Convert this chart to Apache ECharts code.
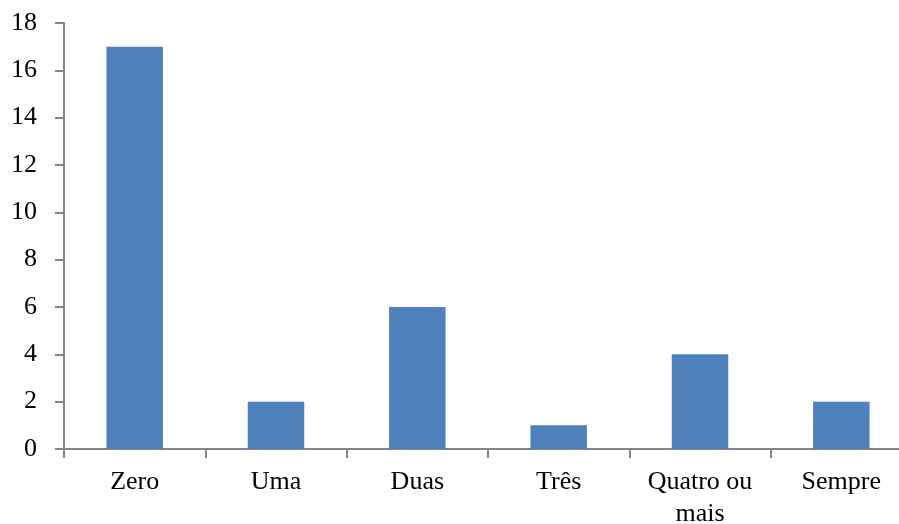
<!DOCTYPE html>
<html><head><meta charset="utf-8">
<script src="https://cdn.jsdelivr.net/npm/echarts@6/dist/echarts.min.js"></script>
<style>html,body{margin:0;padding:0;background:#fff;overflow:hidden}#c{width:899px;height:524px}</style>
</head><body><div id="c"></div>
<script>
const categories = ["Zero", "Uma", "Duas", "Três", "Quatro ou\nmais", "Sempre"];
const values = [17, 2, 6, 1, 4, 2];
const yTicks = [0, 2, 4, 6, 8, 10, 12, 14, 16, 18];

const chart = echarts.init(document.getElementById('c'));
const font = '"Liberation Serif", "Times New Roman", serif';
chart.setOption({
  animation: false,
  grid: { left: 64, right: -13, top: 23, bottom: 75, containLabel: false, outerBoundsMode: 'none' },
  xAxis: {
    type: 'category', data: categories,
    axisLine: { lineStyle: { color: '#868686', width: 2 } },
    axisTick: { show: true, length: 9, lineStyle: { color: '#868686', width: 2 } },
    axisLabel: { color: '#000', fontFamily: font, fontSize: 26, margin: 17, lineHeight: 32, interval: 0 }
  },
  yAxis: {
    type: 'value', min: yTicks[0], max: yTicks[yTicks.length - 1], interval: 2,
    axisLine: { show: true, lineStyle: { color: '#868686', width: 2 } },
    axisTick: { show: true, length: 9, lineStyle: { color: '#868686', width: 2 } },
    splitLine: { show: false },
    axisLabel: { color: '#000', fontFamily: font, fontSize: 26, margin: 27 }
  },
  series: [{
    type: 'bar', data: values, barWidth: '40%',
    itemStyle: { color: '#4F81BD' }
  }]
});
</script></body></html>
